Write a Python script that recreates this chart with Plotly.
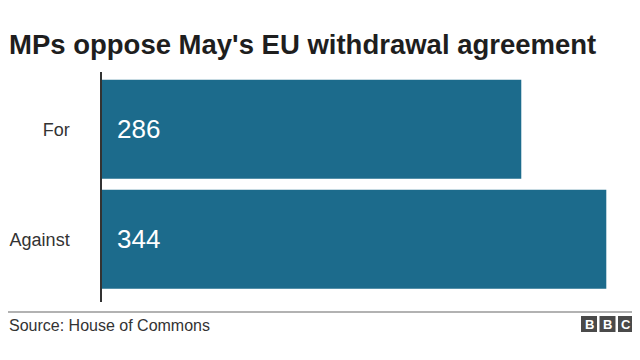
import plotly.graph_objects as go

categories = ["For", "Against"]
values = [286, 344]
title_text = "MPs oppose May's EU withdrawal agreement"
source_text = "Source: House of Commons"

# page body has an 8px margin; positions below are reference pixels
OFF = 8
W, H = 640 - OFF, 360 - OFF
ML, MR, MT, MB = 102 - OFF, 4, 72 - OFF, 360 - 302
PW, PH = W - ML - MR, H - MT - MB

def px(x):
    return (x - OFF - ML) / PW

def py(y):
    return 1 - (y - OFF - MT) / PH

BAR = "#1c6b8c"
FONT = "Liberation Sans, Arial, Helvetica, sans-serif"

fig = go.Figure(go.Bar(
    x=values, y=categories, orientation="h",
    marker=dict(color=BAR, line=dict(width=0)),
    width=0.9, hoverinfo="skip",
))

annotations = []
for c, v in zip(categories, values):
    annotations.append(dict(
        x=0, y=c, xref="x", yref="y", text=str(v), showarrow=False,
        xanchor="left", xshift=13, font=dict(family=FONT, size=26, color="white"),
    ))

annotations.append(dict(
    x=px(OFF), y=py(44), xref="paper", yref="paper", text="<b>" + title_text + "</b>",
    showarrow=False, xanchor="left", yanchor="middle", borderpad=0,
    font=dict(family=FONT, size=27.5, color="#1e1e1e"),
))
annotations.append(dict(
    x=px(OFF), y=py(325), xref="paper", yref="paper", text=source_text,
    showarrow=False, xanchor="left", yanchor="middle", borderpad=0,
    font=dict(family=FONT, size=16, color="#333333"),
))

shapes = [dict(
    type="line", xref="paper", yref="paper",
    x0=px(OFF), x1=px(638), y0=py(312), y1=py(312),
    line=dict(color="#999999", width=1.5),
)]

for i, letter in enumerate("BBC"):
    x0 = 581 + i * 18.5
    shapes.append(dict(
        type="rect", xref="paper", yref="paper",
        x0=px(x0), x1=px(x0 + 16), y0=py(316), y1=py(332),
        fillcolor="#4a4a4a", line=dict(width=0),
    ))
    annotations.append(dict(
        x=px(x0 + 8), y=py(324), xref="paper", yref="paper", text="<b>" + letter + "</b>",
        showarrow=False, xanchor="center", yanchor="middle",
        font=dict(family=FONT, size=13, color="white"),
    ))

fig.update_layout(
    width=W, height=H,
    margin=dict(l=ML, r=MR, t=MT, b=MB),
    paper_bgcolor="white", plot_bgcolor="white",
    showlegend=False,
    xaxis=dict(range=[0, PW / 1.466], visible=False, fixedrange=True, automargin=False),
    yaxis=dict(
        type="category", range=[1.57, -0.52], automargin=False,
        showline=True, linecolor="#333333", linewidth=1.5,
        showgrid=False, zeroline=False, ticks="",
        ticklabelstandoff=27,
        tickfont=dict(family=FONT, size=18, color="#333333"),
    ),
    annotations=annotations,
    shapes=shapes,
)

fig.write_html("out.html")
